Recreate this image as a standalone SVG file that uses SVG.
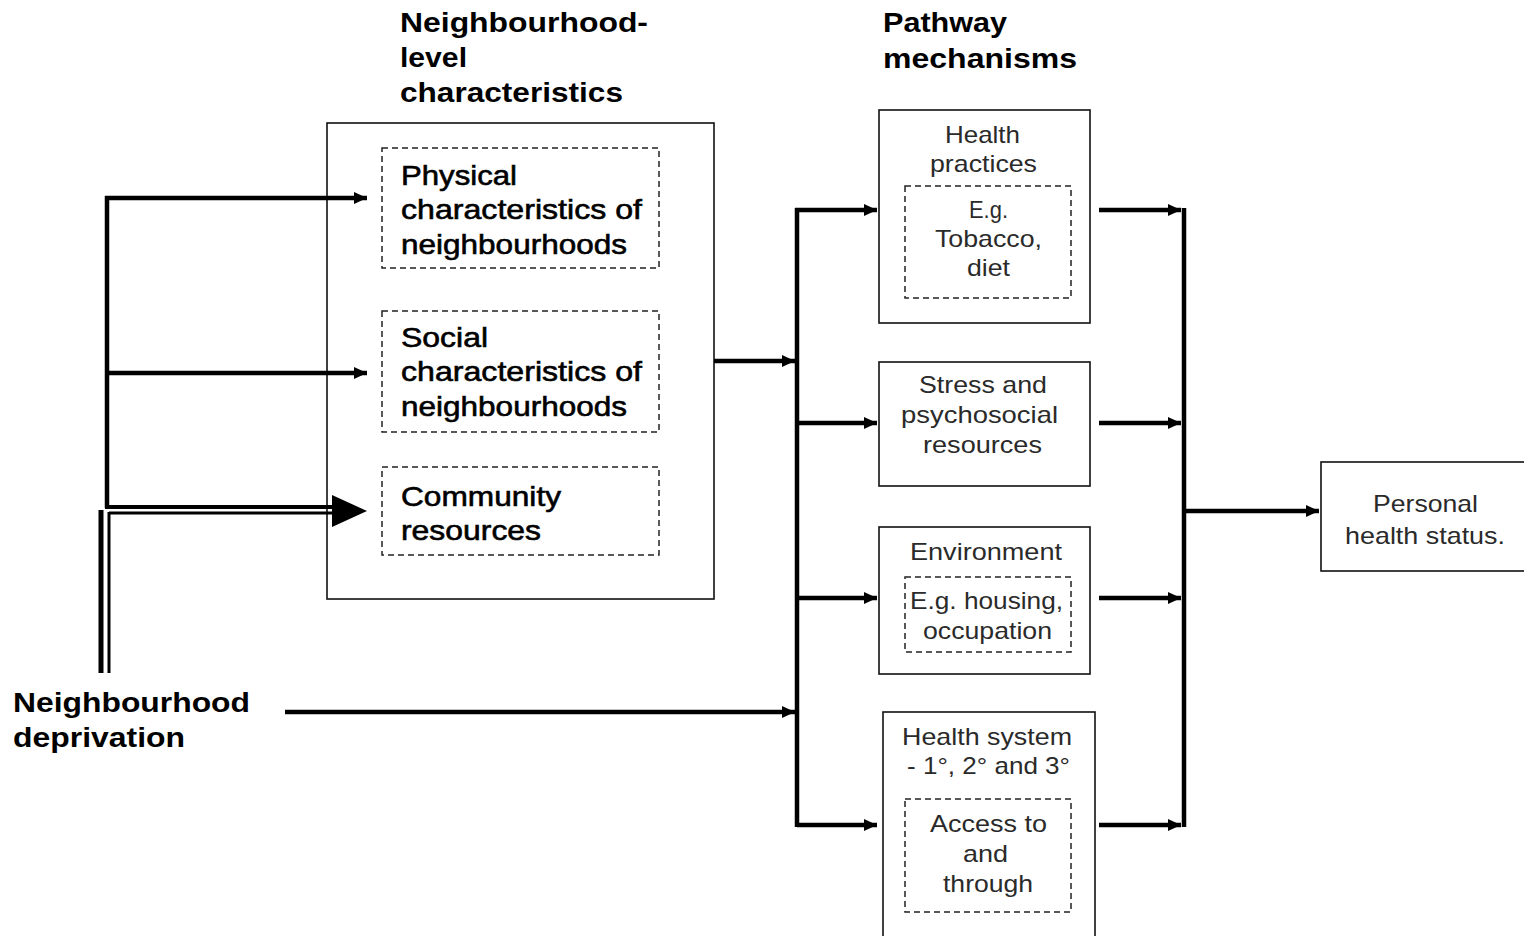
<svg xmlns="http://www.w3.org/2000/svg" width="1524" height="936" viewBox="0 0 1524 936">
<style>
.box{fill:#fff;stroke:#111;stroke-width:1.6}
.dash{fill:none;stroke:#222;stroke-width:1.5;stroke-dasharray:6 4}
.title{font-family:"Liberation Sans",Arial,sans-serif;font-weight:bold;font-size:28px;fill:#000}
.med{font-family:"Liberation Sans",Arial,sans-serif;font-size:28px;fill:#000;stroke:#000;stroke-width:0.6}
.thin{font-family:"Liberation Sans",Arial,sans-serif;font-size:24px;fill:#2a2a2a;text-anchor:start}
.c{fill:none;stroke:#000;stroke-width:4.5}
</style>
<defs>
<marker id="ah" markerUnits="userSpaceOnUse" markerWidth="14" markerHeight="14" refX="13" refY="6" orient="auto">
<path d="M0,0 L13,6 L0,12 Z" fill="#000"/>
</marker>
</defs>
<rect width="1524" height="936" fill="#fff"/>

<g id="title-neigh">
<text class="title" x="400" y="32" textLength="248" lengthAdjust="spacingAndGlyphs">Neighbourhood-</text>
<text class="title" x="400" y="67" textLength="67" lengthAdjust="spacingAndGlyphs">level</text>
<text class="title" x="400" y="102" textLength="223" lengthAdjust="spacingAndGlyphs">characteristics</text>
</g>
<g id="title-pathway">
<text class="title" x="883" y="32" textLength="124" lengthAdjust="spacingAndGlyphs">Pathway</text>
<text class="title" x="883" y="68" textLength="194" lengthAdjust="spacingAndGlyphs">mechanisms</text>
</g>
<g id="deprivation">
<text class="title" x="13" y="712" textLength="237" lengthAdjust="spacingAndGlyphs">Neighbourhood</text>
<text class="title" x="13" y="747" textLength="172" lengthAdjust="spacingAndGlyphs">deprivation</text>
</g>

<g id="neigh-box">
<rect class="box" x="327" y="123" width="387" height="476"/>
</g>
<g id="physical">
<rect class="dash" x="382" y="148" width="277" height="120"/>
<text class="med" x="401" y="185" textLength="116" lengthAdjust="spacingAndGlyphs">Physical</text>
<text class="med" x="401" y="219" textLength="241" lengthAdjust="spacingAndGlyphs">characteristics of</text>
<text class="med" x="401" y="254" textLength="226" lengthAdjust="spacingAndGlyphs">neighbourhoods</text>
</g>
<g id="social">
<rect class="dash" x="382" y="311" width="277" height="121"/>
<text class="med" x="401" y="347" textLength="87" lengthAdjust="spacingAndGlyphs">Social</text>
<text class="med" x="401" y="381" textLength="241" lengthAdjust="spacingAndGlyphs">characteristics of</text>
<text class="med" x="401" y="416" textLength="226" lengthAdjust="spacingAndGlyphs">neighbourhoods</text>
</g>
<g id="community">
<rect class="dash" x="382" y="467" width="277" height="88"/>
<text class="med" x="401" y="506" textLength="160" lengthAdjust="spacingAndGlyphs">Community</text>
<text class="med" x="401" y="540" textLength="140" lengthAdjust="spacingAndGlyphs">resources</text>
</g>

<g id="health-practices">
<rect class="box" x="879" y="110" width="211" height="213"/>
<text class="thin" x="945" y="143" textLength="75" lengthAdjust="spacingAndGlyphs">Health</text>
<text class="thin" x="930" y="172" textLength="107" lengthAdjust="spacingAndGlyphs">practices</text>
<rect class="dash" x="905" y="186" width="166" height="112"/>
<text class="thin" x="969" y="218" textLength="39" lengthAdjust="spacingAndGlyphs">E.g.</text>
<text class="thin" x="935" y="247" textLength="107" lengthAdjust="spacingAndGlyphs">Tobacco,</text>
<text class="thin" x="967" y="276" textLength="43" lengthAdjust="spacingAndGlyphs">diet</text>
</g>
<g id="stress">
<rect class="box" x="879" y="362" width="211" height="124"/>
<text class="thin" x="919" y="393" textLength="128" lengthAdjust="spacingAndGlyphs">Stress and</text>
<text class="thin" x="901" y="423" textLength="157" lengthAdjust="spacingAndGlyphs">psychosocial</text>
<text class="thin" x="923" y="453" textLength="119" lengthAdjust="spacingAndGlyphs">resources</text>
</g>
<g id="environment">
<rect class="box" x="879" y="527" width="211" height="147"/>
<text class="thin" x="910" y="560" textLength="152" lengthAdjust="spacingAndGlyphs">Environment</text>
<rect class="dash" x="905" y="577" width="166" height="75"/>
<text class="thin" x="910" y="609" textLength="153" lengthAdjust="spacingAndGlyphs">E.g. housing,</text>
<text class="thin" x="923" y="639" textLength="129" lengthAdjust="spacingAndGlyphs">occupation</text>
</g>
<g id="health-system">
<rect class="box" x="883" y="712" width="212" height="240"/>
<text class="thin" x="902" y="745" textLength="170" lengthAdjust="spacingAndGlyphs">Health system</text>
<text class="thin" x="907" y="774" textLength="163" lengthAdjust="spacingAndGlyphs">- 1°, 2° and 3°</text>
<rect class="dash" x="905" y="799" width="166" height="113"/>
<text class="thin" x="930" y="832" textLength="117" lengthAdjust="spacingAndGlyphs">Access to</text>
<text class="thin" x="963" y="862" textLength="45" lengthAdjust="spacingAndGlyphs">and</text>
<text class="thin" x="943" y="892" textLength="90" lengthAdjust="spacingAndGlyphs">through</text>
</g>
<g id="personal">
<rect class="box" x="1321" y="462" width="210" height="109"/>
<text class="thin" x="1373" y="512" textLength="105" lengthAdjust="spacingAndGlyphs">Personal</text>
<text class="thin" x="1345" y="544" textLength="160" lengthAdjust="spacingAndGlyphs">health status.</text>
</g>

<g id="connectors">
<path class="c" d="M107,508 V196"/>
<path class="c" d="M105,198 H367" marker-end="url(#ah)"/>
<path class="c" d="M107,373 H367" marker-end="url(#ah)"/>
<path d="M105,507 H334" stroke="#000" stroke-width="4"/>
<path d="M109,513 H334" stroke="#000" stroke-width="3"/>
<path d="M101,510 V673" stroke="#000" stroke-width="5"/>
<path d="M109,512 V673" stroke="#000" stroke-width="3"/>
<polygon points="332,495 367,511 332,527" fill="#000"/>
<path class="c" d="M714,361 H795" marker-end="url(#ah)"/>
<path class="c" d="M285,712 H795" marker-end="url(#ah)"/>
<path class="c" d="M797,827 V208"/>
<path class="c" d="M795,210 H877" marker-end="url(#ah)"/>
<path class="c" d="M797,423 H877" marker-end="url(#ah)"/>
<path class="c" d="M797,598 H877" marker-end="url(#ah)"/>
<path class="c" d="M797,825 H877" marker-end="url(#ah)"/>
<path class="c" d="M1099,210 H1181" marker-end="url(#ah)"/>
<path class="c" d="M1099,423 H1181" marker-end="url(#ah)"/>
<path class="c" d="M1099,598 H1181" marker-end="url(#ah)"/>
<path class="c" d="M1099,825 H1181" marker-end="url(#ah)"/>
<path class="c" d="M1184,208 V827"/>
<path class="c" d="M1184,511 H1319" marker-end="url(#ah)"/>
</g>
</svg>
